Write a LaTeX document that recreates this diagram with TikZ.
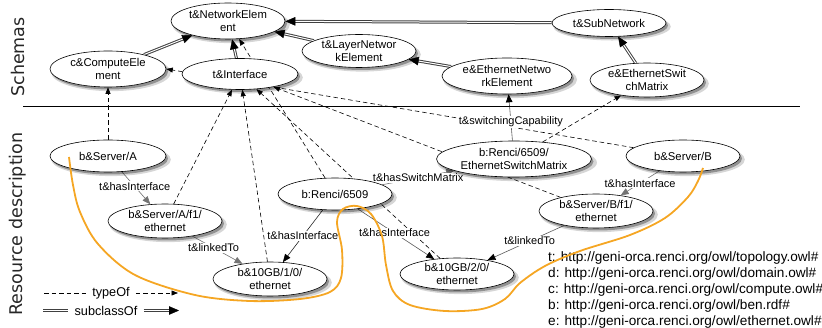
\documentclass[tikz,border=0pt]{standalone}
\usepackage{fontspec}
\setmainfont{Liberation Sans}
\newfontfamily\sidefont{DejaVu Sans}
\usetikzlibrary{arrows.meta,shapes.geometric,shadows}
\pgfdeclarelayer{edges}
\pgfsetlayers{edges,main}
\definecolor{curveorange}{RGB}{245,166,35}
\newcommand{\ndfont}{\fontsize{11.3}{13.5}\selectfont}
\newcommand{\lblfont}{\fontsize{11}{13}\selectfont}
\newcommand{\subcl}[2]{\draw[dblout, shorten >=7pt] (#1) -- (#2); \draw[dblin, dbltip] (#1) -- (#2);}
\newcommand{\dblplain}[2]{\draw[dblout] (#1) -- (#2); \draw[dblin] (#1) -- (#2);}
\begin{document}
\begin{tikzpicture}[x=1pt,y=-1pt,
  shd/.style={general shadow={shadow xshift=3pt, shadow yshift=-3.5pt, fill=black, opacity=0.16, shadow scale=1.03},
              general shadow={shadow xshift=2pt, shadow yshift=-2.5pt, fill=black, opacity=0.32}},
  cls/.style={ellipse, draw=black, line width=0.6pt, fill=white, inner sep=0pt, minimum width=114pt, minimum height=33pt, align=center, font=\ndfont, shd},
  typeof/.style={draw=black, line width=0.6pt, dash pattern=on 4.5pt off 3pt, -{Triangle[length=6.5pt,width=5pt]}},
  typeofplain/.style={draw=black, line width=0.6pt, dash pattern=on 4.5pt off 3pt},
  prop/.style={draw=black!55, line width=0.6pt, -{Triangle[length=8pt,width=6.5pt]}},
  propk/.style={draw=black!65, line width=0.6pt, -{Triangle[length=8pt,width=6.5pt,color=black]}},
  dblout/.style={draw=black!75, line width=3pt},
  dblin/.style={draw=white, line width=1pt},
  dbltip/.style={-{Triangle[length=10pt,width=8.5pt,line width=0.4pt,color=black,fill=black]}},
  elabel/.style={fill=white, inner sep=1pt, font=\lblfont},
  legtext/.style={inner ysep=0pt, inner xsep=6pt, font=\fontsize{12.7}{15}\selectfont},
  sidelabel/.style={rotate=90, inner sep=0pt, text=black!85, font=\sidefont\fontsize{17.5}{20}\selectfont},
  pfxtext/.style={align=left, inner sep=0pt, font=\fontsize{13.6}{16}\selectfont},
  sepline/.style={draw=black, line width=0.8pt},
  orangecurve/.style={draw=curveorange, line width=1.8pt}
]
\useasboundingbox (0,0) rectangle (822,328);

% schema nodes
\node[cls, minimum height=36pt] (NE) at (228,21) {t\&NetworkElem\\ent};
\node[cls, minimum height=27pt] (SN) at (609,23) {t\&SubNetwork};
\node[cls, minimum width=116pt, minimum height=36pt] (CE) at (108,69) {c\&ComputeEle\\ment};
\node[cls, minimum width=116pt, minimum height=31pt] (IF) at (240,74) {t\&Interface};
\node[cls] (LNE) at (359,51) {t\&LayerNetwor\\kElement};
\node[cls, minimum width=130pt, minimum height=36pt, inner xsep=-3.5pt] (ENE) at (507,76) {e\&EthernetNetwo\\rkElement};
\node[cls, minimum height=34pt] (ESMc) at (647,80) {e\&EthernetSwit\\chMatrix};

% separator
\coordinate (sepL) at (23,106);
\coordinate (sepR) at (800,106);
\draw[sepline] (sepL) -- (sepR);

% resource nodes
\node[cls, minimum width=116pt, minimum height=32pt] (SA) at (108,156) {b\&Server/A};
\node[cls, minimum width=155pt, minimum height=36pt, inner xsep=1pt] (RESM) at (514,159) {b:Renci/6509/\\EthernetSwitchMatrix};
\node[cls, minimum height=32pt] (SB) at (683,156) {b\&Server/B};
\node[cls, minimum height=32pt] (R) at (335,194) {b:Renci/6509};
\node[cls, minimum height=34pt, inner xsep=-2pt] (Af1) at (165,221) {b\&Server/A/f1/\\ethernet};
\node[cls, minimum height=34pt, inner xsep=-2pt] (Bf1) at (596,211) {b\&Server/B/f1/\\ethernet};
\node[cls, minimum height=34pt] (G1) at (270,279) {b\&10GB/1/0/\\ethernet};
\node[cls, minimum height=32pt] (G2) at (457,274) {b\&10GB/2/0/\\ethernet};

% side labels
\node[sidelabel] (schemas) at (18,57) {Schemas};
\node[sidelabel] (resdesc) at (18,224) {Resource description};

% prefixes
\node[pfxtext, anchor=west] (pfx) at (548,290) {t: http://geni-orca.renci.org/owl/topology.owl\#\\d: http://geni-orca.renci.org/owl/domain.owl\#\\c: http://geni-orca.renci.org/owl/compute.owl\#\\b: http://geni-orca.renci.org/owl/ben.rdf\#\\e: http://geni-orca.renci.org/owl/ethernet.owl\#};

% legend
\node[legtext] (lgT) at (111,293) {typeOf};
\coordinate (lgT1) at (44,293);
\coordinate (lgT2) at (178,293);
\node[legtext] (lgS) at (106,310.5) {subclassOf};
\coordinate (lgS1) at (43,310.5);
\coordinate (lgS2) at (179,310.5);

\begin{pgfonlayer}{edges}
  \subcl{CE}{NE}
  \subcl{IF}{NE}
  \subcl{LNE}{NE}
  \subcl{SN}{NE}
  \subcl{ENE}{LNE}
  \subcl{ESMc}{SN}
  \draw[typeof] (SA) -- (CE);
  \draw[typeof] (SB) -- (CE.east);
  \draw[typeof] (Af1) -- (IF);
  \draw[typeof] (G1) -- (IF);
  \draw[typeof] (G2) -- (IF);
  \draw[typeof] (Bf1) -- (IF);
  \draw[typeof] (R) -- (NE);
  \draw[typeof] (RESM) -- (ESMc);
  \draw[prop] (SA) -- node[elabel, pos=0.45] (l1) {t\&hasInterface} (Af1);
  \draw[prop] (Af1) -- node[elabel, pos=0.42] (l2) {t\&linkedTo} (G1);
  \draw[propk, draw=black!85] (R) -- node[elabel, pos=0.5] (l3) {t\&hasInterface} (G1);
  \draw[propk] (R) -- node[elabel, pos=0.48] (l4) {t\&hasInterface} (G2);
  \draw[prop] (R) -- node[elabel, pos=0.5] (l5) {t\&hasSwitchMatrix} (RESM);
  \draw[prop] (SB) -- node[elabel, pos=0.5] (l6) {t\&hasInterface} (Bf1);
  \draw[propk] (Bf1) -- node[elabel, pos=0.45] (l7) {t\&linkedTo} (G2);
  \draw[propk] (RESM) -- node[elabel, pos=0.4] (l8) {t\&switchingCapability} (ENE);
\end{pgfonlayer}

% legend lines
\draw[typeofplain] (lgT1) -- (lgT.west);
\draw[typeof] (lgT.east) -- (lgT2);
\dblplain{lgS1}{lgS.west}
\subcl{lgS.east}{lgS2}

% orange curve
\draw[orangecurve] plot[smooth, tension=0.55] coordinates {(69,157) (73,185) (80,212) (98,244) (135,275) (195,295) (250,301) (300,299) (330,292) (341,278) (342,250) (337,222) (343,209) (357,206) (371,214) (382,236) (386,265) (393,291) (410,305) (445,311) (482,309) (505,299) (520,283) (545,266) (580,251) (630,235) (665,218) (688,197) (698,181) (703,168)};
\end{tikzpicture}
\end{document}
